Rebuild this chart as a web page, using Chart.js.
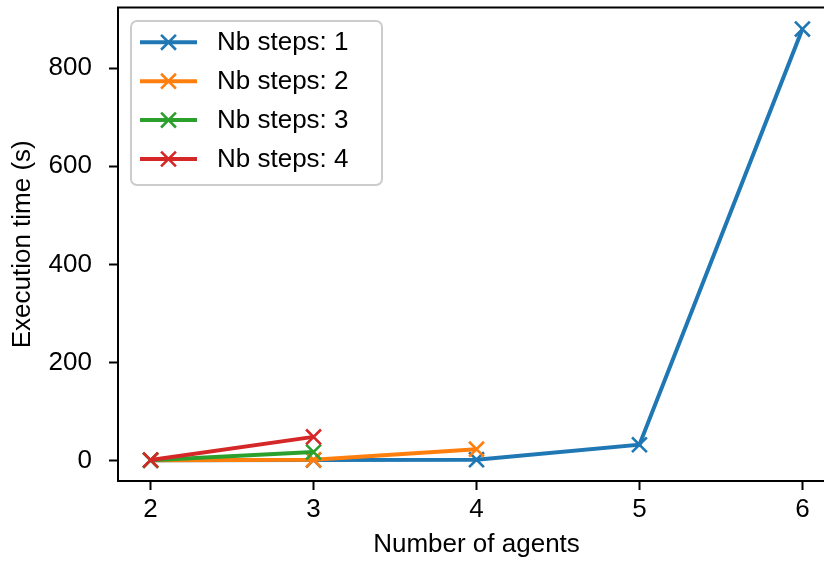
<!DOCTYPE html>
<html>
<head>
<meta charset="utf-8">
<script src="https://cdn.jsdelivr.net/npm/chart.js@4/dist/chart.umd.min.js"></script>
<style>
html, body { margin: 0; padding: 0; overflow: hidden; background: #fff; }
canvas { display: block; }
</style>
</head>
<body>
<canvas id="c" width="840" height="563"></canvas>
<script>
// ---- data ----
const agents = [2, 3, 4, 5, 6];
const seriesLabels = ["Nb steps: 1", "Nb steps: 2", "Nb steps: 3", "Nb steps: 4"];
const steps1 = [0.2, 0.6, 1.5, 32, 880];
const steps2 = [0.3, 1.2, 23];
const steps3 = [0.4, 17];
const steps4 = [0.8, 48];
const xTicks = [2, 3, 4, 5, 6];
const yTicks = [0, 200, 400, 600, 800];
const colors = ["#1f77b4", "#ff7f0e", "#2ca02c", "#d62728"];

const FONT = "'Liberation Sans', Arial, Helvetica, sans-serif";
const allSeries = [steps1, steps2, steps3, steps4];

const datasets = allSeries.map((vals, i) => ({
  label: seriesLabels[i],
  data: vals.map((v, j) => ({ x: agents[j], y: v })),
  borderColor: colors[i],
  backgroundColor: colors[i],
  borderWidth: 4,
  pointStyle: 'crossRot',
  pointRadius: 10.5,
  pointHoverRadius: 10.5,
  pointBorderWidth: 2.6,
  pointBorderColor: colors[i],
  tension: 0,
  fill: false,
  clip: false,
  order: allSeries.length - i
}));

const framePlugin = {
  id: 'frame',
  afterDatasetsDraw(chart) {
    const { ctx, chartArea: a } = chart;
    ctx.save();
    ctx.strokeStyle = '#000';
    ctx.lineWidth = 2;
    ctx.strokeRect(a.left, a.top, a.right - a.left, a.bottom - a.top);
    ctx.restore();
  }
};

const legendPlugin = {
  id: 'mplLegend',
  afterDraw(chart) {
    const ctx = chart.ctx;
    const bx = 131, by = 21, bw = 251, bh = 164, r = 6;
    ctx.save();
    ctx.beginPath();
    ctx.moveTo(bx + r, by);
    ctx.arcTo(bx + bw, by, bx + bw, by + bh, r);
    ctx.arcTo(bx + bw, by + bh, bx, by + bh, r);
    ctx.arcTo(bx, by + bh, bx, by, r);
    ctx.arcTo(bx, by, bx + bw, by, r);
    ctx.closePath();
    ctx.fillStyle = 'rgba(255,255,255,0.8)';
    ctx.fill();
    ctx.strokeStyle = '#cccccc';
    ctx.lineWidth = 2;
    ctx.stroke();
    chart.data.datasets.forEach((ds, i) => {
      const y = 42.3 + i * 38.9;
      ctx.strokeStyle = ds.borderColor;
      ctx.lineWidth = 4;
      ctx.beginPath();
      ctx.moveTo(140, y);
      ctx.lineTo(197, y);
      ctx.stroke();
      ctx.lineWidth = 2.6;
      const d = 10.5 * Math.SQRT1_2;
      ctx.beginPath();
      ctx.moveTo(168.5 - d, y - d); ctx.lineTo(168.5 + d, y + d);
      ctx.moveTo(168.5 - d, y + d); ctx.lineTo(168.5 + d, y - d);
      ctx.stroke();
      ctx.fillStyle = '#000';
      ctx.font = '26px ' + FONT;
      ctx.textBaseline = 'middle';
      ctx.textAlign = 'left';
      ctx.fillText(ds.label, 217, y + 1);
    });
    ctx.restore();
  }
};

new Chart(document.getElementById('c'), {
  type: 'line',
  data: { datasets },
  plugins: [framePlugin, legendPlugin],
  options: {
    responsive: false,
    animation: false,
    events: [],
    layout: { autoPadding: false, padding: { top: 7.5, right: 5, left: 0, bottom: 0 } },
    plugins: { legend: { display: false }, tooltip: { enabled: false } },
    scales: {
      x: {
        type: 'linear',
        min: 1.8,
        max: 6.2,
        afterFit(s) { s.height = 82; s.paddingLeft = 0; s.paddingRight = 0; },
        afterBuildTicks(s) { s.ticks = xTicks.map(v => ({ value: v })); },
        ticks: {
          includeBounds: false,
          padding: 4,
          color: '#000',
          font: { family: FONT, size: 26 },
          maxRotation: 0,
          autoSkip: false
        },
        grid: { display: true, drawOnChartArea: false, drawTicks: true, tickLength: 9, tickWidth: 2, tickColor: '#000', color: '#000' },
        border: { display: true, color: '#000', width: 2 },
        title: { display: true, text: 'Number of agents', color: '#000', font: { family: FONT, size: 26 }, padding: { top: 0, bottom: 2.4 } }
      },
      y: {
        type: 'linear',
        min: -42,
        max: 924,
        afterFit(s) { s.width = 118; s.paddingTop = 0; s.paddingBottom = 0; },
        afterBuildTicks(s) { s.ticks = yTicks.map(v => ({ value: v })); },
        ticks: {
          includeBounds: false,
          padding: 17,
          color: '#000',
          font: { family: FONT, size: 26 },
          autoSkip: false
        },
        grid: { display: true, drawOnChartArea: false, drawTicks: true, tickLength: 9, tickWidth: 2, tickColor: '#000', color: '#000' },
        border: { display: true, color: '#000', width: 2 },
        title: { display: true, text: 'Execution time (s)', color: '#000', font: { family: FONT, size: 26 }, padding: { top: 7.4, bottom: 0 } }
      }
    }
  }
});
</script>
</body>
</html>
